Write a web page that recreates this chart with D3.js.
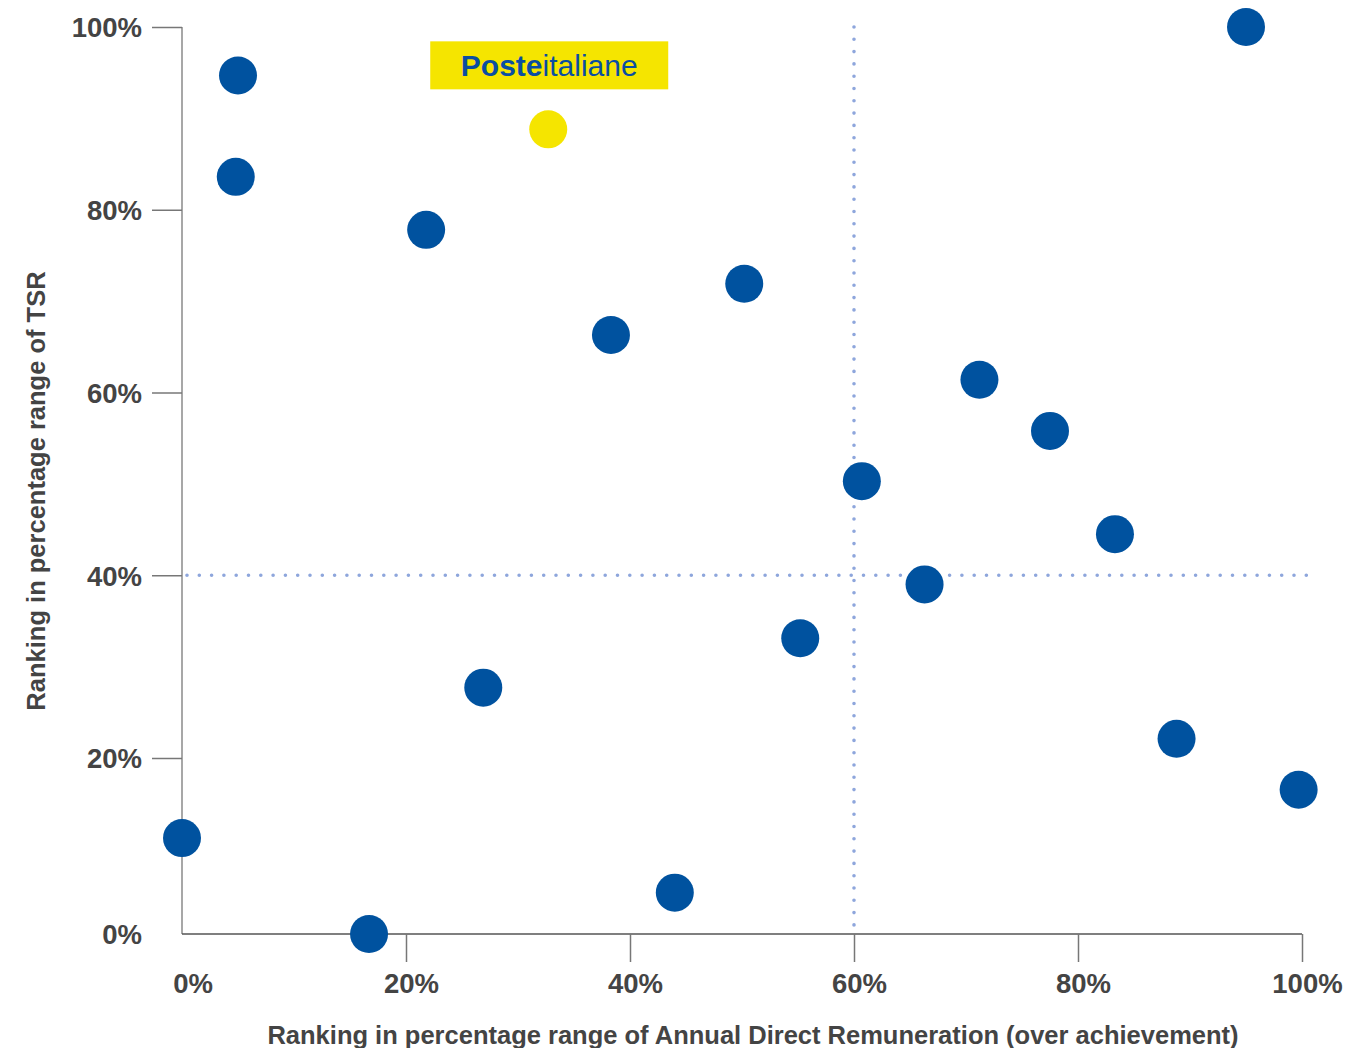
<!DOCTYPE html>
<html>
<head>
<meta charset="utf-8">
<script src="https://cdn.jsdelivr.net/npm/d3@7"></script>
<style>
  html, body { margin: 0; padding: 0; background: #fff; }
  svg { display: block; }
  text { font-family: "Liberation Sans", Arial, Helvetica, sans-serif; }
</style>
</head>
<body>
<svg id="chart" width="1347" height="1048"></svg>
<script>
// ---- Data ----
const peerX = [0.050, 0.048, 0.218, 0.383, 0.502, 0.712, 0.775, 0.607, 0.833, 0.663, 0.552, 0.269, 0.888, 0.997, 0.000, 0.440, 0.167, 0.950];
const peerY = [0.947, 0.836, 0.778, 0.663, 0.719, 0.614, 0.558, 0.503, 0.445, 0.390, 0.331, 0.277, 0.221, 0.164, 0.109, 0.047, 0.000, 1.000];
const posteX = [0.327];
const posteY = [0.888];
const xTicks = [0.2, 0.4, 0.6, 0.8, 1.0];
const xTickLabels = ["0%", "20%", "40%", "60%", "80%", "100%"];
const yTicks = [0.2, 0.4, 0.6, 0.8, 1.0];
const yTickLabels = ["0%", "20%", "40%", "60%", "80%", "100%"];
const refX = 0.6;   // vertical reference line
const refY = 0.4;   // horizontal reference line
const xTitle = "Ranking in percentage range of Annual Direct Remuneration (over achievement)";
const yTitle = "Ranking in percentage range of TSR";

// ---- Scales ----
const x = d3.scaleLinear().domain([0, 1]).range([182, 1302]);
const y = d3.scaleLinear().domain([0, 0.2, 1]).range([934, 758, 27]);

const svg = d3.select("#chart");
const blue = "#00529f";
const textCol = "#444444";
const tickFont = 27.5;

// Reference dotted lines
const dotStyle = g => g.attr("stroke", "#8ea6dc").attr("stroke-width", 3.6)
  .attr("stroke-linecap", "round").attr("stroke-dasharray", "0 12.3").attr("fill", "none");
svg.append("line").attr("x1", x(0) + 5).attr("x2", x(1) + 10).attr("y1", y(refY)).attr("y2", y(refY)).call(dotStyle);
svg.append("line").attr("x1", x(refX)).attr("x2", x(refX)).attr("y1", y(1)).attr("y2", y(0)).call(dotStyle);

// Y axis
const yAxis = d3.axisLeft(y).tickValues(yTicks).tickSize(30).tickPadding(10)
  .tickFormat((d) => yTickLabels[Math.round(d * 5)]);
const gy = svg.append("g").attr("transform", `translate(${x(0)},0)`).call(yAxis);
gy.select(".domain").attr("stroke", "#8a8a8a").attr("stroke-width", 1.5).attr("d", `M0,${y(1)}V${y(0)}`);
gy.selectAll(".tick line").attr("stroke", "#777").attr("stroke-width", 1.5);
gy.selectAll(".tick text").attr("fill", textCol).attr("font-size", tickFont).attr("font-weight", "bold")
  .attr("dy", "0.36em");
// 0% label on y axis (no tick)
svg.append("text").attr("x", 142).attr("y", y(0)).attr("dy", "0.36em").attr("text-anchor", "end")
  .attr("fill", textCol).attr("font-size", tickFont).attr("font-weight", "bold").text(yTickLabels[0]);

// X axis
const xAxis = d3.axisBottom(x).tickValues(xTicks).tickSize(28).tickPadding(11)
  .tickFormat((d) => xTickLabels[Math.round(d * 5)]);
const gx = svg.append("g").attr("transform", `translate(0,${y(0)})`).call(xAxis);
gx.select(".domain").attr("stroke", "#555").attr("stroke-width", 1.5).attr("d", `M${x(0)},0H${x(1)}`);
gx.selectAll(".tick line").attr("stroke", "#777").attr("stroke-width", 1.5);
gx.selectAll(".tick text").attr("fill", textCol).attr("font-size", tickFont).attr("font-weight", "bold")
  .attr("dx", 5);
svg.append("text").attr("x", x(0) + 11).attr("y", y(0) + 39).attr("dy", "0.71em").attr("text-anchor", "middle")
  .attr("fill", textCol).attr("font-size", tickFont).attr("font-weight", "bold").text(xTickLabels[0]);

// Axis titles
svg.append("text").attr("x", 753).attr("y", 1044).attr("text-anchor", "middle")
  .attr("fill", textCol).attr("font-size", 25.5).attr("font-weight", "bold").text(xTitle);
svg.append("text").attr("transform", "translate(45,491) rotate(-90)").attr("text-anchor", "middle")
  .attr("fill", textCol).attr("font-size", 25.5).attr("font-weight", "bold").text(yTitle);

// Peer points
const peers = peerX.map((v, i) => ({ x: v, y: peerY[i] }));
svg.append("g").selectAll("circle").data(peers).join("circle")
  .attr("cx", d => x(d.x)).attr("cy", d => y(d.y)).attr("r", 19).attr("fill", blue);

// Poste Italiane point
const poste = posteX.map((v, i) => ({ x: v, y: posteY[i] }));
svg.append("g").selectAll("circle").data(poste).join("circle")
  .attr("cx", d => x(d.x)).attr("cy", d => y(d.y)).attr("r", 19).attr("fill", "#f5e500");

// Logo label
const lx = x(posteX[0]), ly = y(posteY[0]);
svg.append("rect").attr("x", lx - 118).attr("y", ly - 88).attr("width", 238).attr("height", 48).attr("fill", "#f5e500");
const logo = svg.append("text").attr("x", lx + 1).attr("y", ly - 53).attr("text-anchor", "middle")
  .attr("font-size", 30).attr("fill", "#0a4ea2");
logo.append("tspan").attr("font-weight", "bold").text("Poste");
logo.append("tspan").attr("font-weight", "normal").text("italiane");
</script>
</body>
</html>
